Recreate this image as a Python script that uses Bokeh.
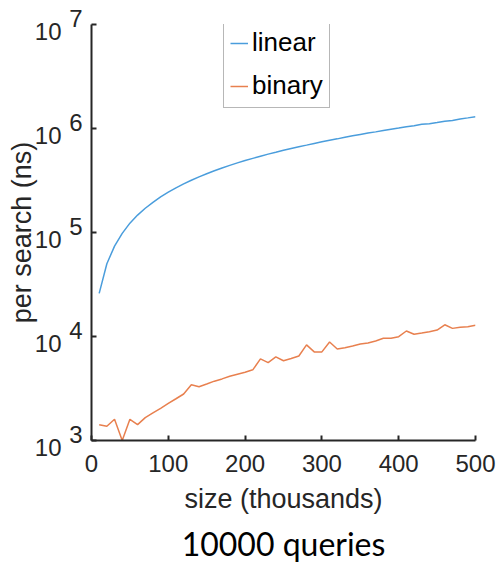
from bokeh.plotting import figure
from bokeh.models import Range1d, FixedTicker, LogAxis, Legend, LegendItem, Title
from bokeh.embed import file_html
from bokeh.resources import INLINE

sizes = [10, 20, 30, 40, 50, 60, 70, 80, 90, 100,
         110, 120, 130, 140, 150, 160, 170, 180, 190, 200,
         210, 220, 230, 240, 250, 260, 270, 280, 290, 300,
         310, 320, 330, 340, 350, 360, 370, 380, 390, 400,
         410, 420, 430, 440, 450, 460, 470, 480, 490, 500]

linear_ns = [26000, 50000, 74000, 98000, 123000, 147000, 171000, 195000, 220000, 244000,
             269000, 293000, 318000, 343000, 367000, 392000, 417000, 442000, 467000, 492000,
             516000, 541000, 567000, 591000, 617000, 642000, 668000, 692000, 719000, 745000,
             772000, 795000, 823000, 850000, 876000, 903000, 928000, 956000, 985000, 1012000,
             1042000, 1065000, 1098000, 1110000, 1140000, 1172000, 1195000, 1232000, 1265000, 1300000]

binary_ns = [1420, 1370, 1600, 1000, 1600, 1420, 1660, 1840, 2040, 2270,
             2520, 2800, 3430, 3290, 3490, 3720, 3910, 4150, 4340, 4540,
             4780, 6100, 5610, 6360, 5840, 6140, 6500, 8300, 7110, 7110,
             8850, 7590, 7810, 8110, 8470, 8670, 9060, 9610, 9610, 9950,
             11290, 10500, 10790, 11110, 11530, 12960, 11970, 12250, 12410, 12800]

x_ticks = [0, 100, 200, 300, 400, 500]
y_ticks = [1e3, 1e4, 1e5, 1e6, 1e7]
y_exponents = ["3", "4", "5", "6", "7"]
y_base = "10"

series_names = ["linear", "binary"]
series_colors = ["#4a9ddc", "#e8804f"]

title_text = "10000 queries"
x_label = "size (thousands)"
y_label = "per search (ns)"

AX = "#262626"
FONT = "Liberation Sans"

p = figure(width=500, height=567, output_backend="svg", toolbar_location=None,
           y_axis_type="log",
           x_range=Range1d(0, 500), y_range=Range1d(1e3, 1e7),
           min_border_left=91, min_border_right=25, min_border_top=24, min_border_bottom=125)
p.outline_line_color = None
p.grid.visible = False
p.background_fill_color = "white"
p.border_fill_color = "white"

r1 = p.line(sizes, linear_ns, line_color=series_colors[0], line_width=1.5)
r2 = p.line(sizes, binary_ns, line_color=series_colors[1], line_width=1.5)


def style(ax):
    ax.axis_line_color = AX
    ax.axis_line_width = 2
    ax.major_tick_line_color = AX
    ax.major_tick_line_width = 2
    ax.major_tick_in = 5
    ax.major_tick_out = 0
    ax.minor_tick_line_color = None
    ax.major_label_text_font = FONT
    ax.major_label_text_font_size = "24px"
    ax.major_label_text_color = AX
    ax.axis_label_text_font = FONT
    ax.axis_label_text_font_size = "27px"
    ax.axis_label_text_font_style = "normal"
    ax.axis_label_text_color = AX


xax = p.xaxis[0]
style(xax)
xax.ticker = FixedTicker(ticks=x_ticks)
xax.major_label_standoff = 14
xax.axis_label = x_label
xax.axis_label_standoff = 9

# inner left axis: spine, ticks and exponents (raised half a short line)
yax = p.yaxis[0]
style(yax)
yax.ticker = FixedTicker(ticks=y_ticks)
yax.major_label_overrides = {t: e + "\n" for t, e in zip(y_ticks, y_exponents)}
yax.major_label_text_line_height = 0.44
yax.major_label_standoff = 9

# outer left axis: the "10" bases (lowered half a short line) and the axis title
yax2 = LogAxis(ticker=FixedTicker(ticks=y_ticks))
style(yax2)
yax2.axis_line_color = None
yax2.major_tick_line_color = None
yax2.major_label_overrides = {t: "\n" + y_base for t in y_ticks}
yax2.major_label_text_line_height = 0.52
yax2.major_label_standoff = 5
yax2.axis_label = y_label
yax2.axis_label_standoff = -5
p.add_layout(yax2, "left")

p.add_layout(Title(text=title_text, align="center", offset=-22,
                   text_font="Lato", text_font_size="32px",
                   text_font_style="normal", text_color="black"), "below")

legend = Legend(items=[LegendItem(label=series_names[0], renderers=[r1]),
                       LegendItem(label=series_names[1], renderers=[r2])],
                location=(132, 332), margin=0, padding=6, spacing=12,
                label_height=30, glyph_height=30, glyph_width=18, label_standoff=4,
                label_text_font=FONT, label_text_font_size="26px", label_text_color="black",
                border_line_color="#707070", border_line_width=1,
                background_fill_color="white", background_fill_alpha=1)
p.add_layout(legend)

open("out.html", "w").write(file_html(p, INLINE))
